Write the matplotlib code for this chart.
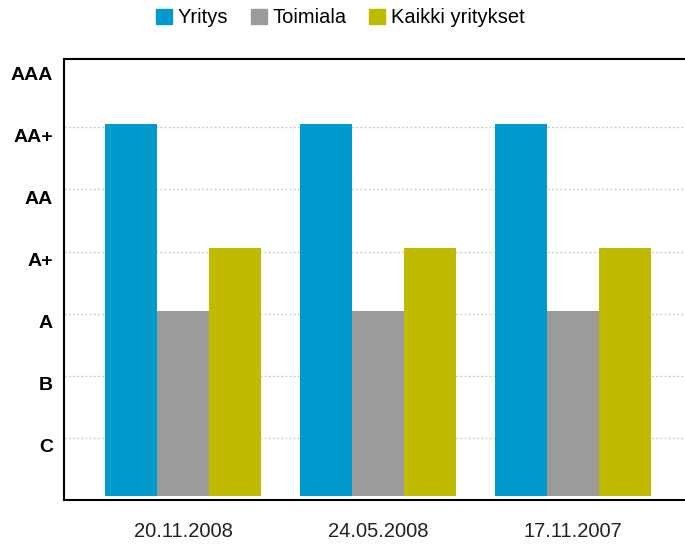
import numpy as np
import matplotlib.pyplot as plt
from matplotlib.patches import Patch

plt.rcParams['font.family'] = ['Liberation Sans', 'DejaVu Sans']

dates = ["20.11.2008", "24.05.2008", "17.11.2007"]
rating_labels = ["C", "B", "A", "A+", "AA", "AA+", "AAA"]
series = ["Yritys", "Toimiala", "Kaikki yritykset"]
yritys = [6, 6, 6]
toimiala = [3, 3, 3]
kaikki = [4, 4, 4]
colors = ["#009bcc", "#9b9b9b", "#c0ba00"]

fig = plt.figure(figsize=(6.85, 5.46), dpi=100)
ax = fig.add_axes([64 / 685, 46 / 546, 1 - 64 / 685, 441 / 546])

x = np.arange(len(dates))
w = 0.267
base = 0.07
for i, (vals, c) in enumerate(zip([yritys, toimiala, kaikki], colors)):
    h = np.array(vals) + 0.05 - base
    ax.bar(x + (i - 1) * w, h, w, bottom=base, color=c, zorder=3)

ax.set_xlim(-0.61, 2.574)
ax.set_ylim(0, 7.1)
levels = np.arange(1, len(rating_labels) + 1)
for yv in levels[:-1]:
    ax.axhline(yv, color="#cccccc", lw=1, ls=(0, (1.5, 1.5)), zorder=1)

# nimikkeet hieman viivojen alapuolella
ax.set_yticks(levels - 0.13)
ax.set_yticklabels(rating_labels, fontsize=14, fontweight="bold")
ax.tick_params(axis="y", length=0, pad=8)
ax.set_xticks(x)
ax.set_xticklabels(dates, fontsize=14.5, color="#222222")
ax.tick_params(axis="x", length=0, pad=16)

ax.spines["right"].set_visible(False)
for s in ["left", "top", "bottom"]:
    ax.spines[s].set_linewidth(1.5)

handles = [Patch(color=c, label=s) for c, s in zip(colors, series)]
fig.legend(handles=handles, loc="upper center", bbox_to_anchor=(0.497, 1.018), ncol=3,
           frameon=False, fontsize=14.5, handlelength=0.8, handleheight=0.8,
           handletextpad=0.3, columnspacing=1.1)

fig.savefig("out.png", dpi=100)
